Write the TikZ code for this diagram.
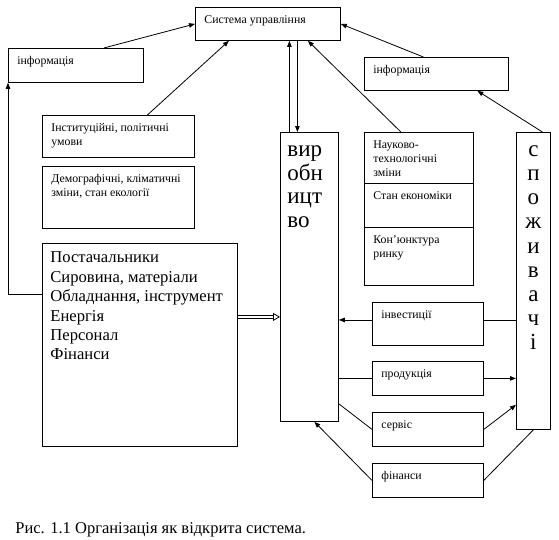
\documentclass[tikz,border=0pt]{standalone}
\usepackage{fontspec}
\setmainfont{Liberation Serif}
\usetikzlibrary{positioning, arrows.meta, calc}

\newcommand{\boxtext}[3]{\parbox[t][#2][t]{#1}{\raggedright\strut #3}}

\tikzset{
  blk/.style={draw, anchor=north west, inner xsep=9pt, inner ysep=6pt,
    font=\fontsize{11.8}{14}\selectfont},
  tall/.style={draw, anchor=north west, inner xsep=7pt, inner ysep=7.5pt,
    font=\fontsize{23}{23.6}\selectfont},
  hollow/.style={double, double distance=2.5pt, -{Triangle[open, length=7pt, width=8pt]}},
}

\begin{document}
\begin{tikzpicture}[x=1pt, y=-1pt, line width=0.8pt, >={Triangle[length=6pt, width=4.5pt]}]
        \useasboundingbox (0,0) rectangle (559,539);

        % Boxes
        \node[blk] (sys) at (195,7) {\boxtext{127pt}{21pt}{Система управління}};
        \node[blk] (infoL) at (8,48) {\boxtext{117pt}{22pt}{інформація}};
        \node[blk] (infoR) at (364,57) {\boxtext{126pt}{21pt}{інформація}};
        \node[blk] (inst) at (42,115) {\boxtext{134pt}{30pt}{Інституційні, політичні\\умови}};
        \node[blk] (demo) at (42,166) {\boxtext{134pt}{50pt}{Демографічні, кліматичні\\зміни, стан екології}};
        \node[blk, inner xsep=8pt, font=\fontsize{16.6}{19.4}\selectfont] (supp) at (42,243)
          {\boxtext{179pt}{191pt}{Постачальники\\Сировина, матеріали\\Обладнання, інструмент\\Енергія\\Персонал\\Фінанси}};

        \node[tall] (vyr) at (280,132) {\boxtext{44pt}{274pt}{вир\\обн\\ицт\\во}};
        \node[tall, inner xsep=3pt, inner ysep=7pt, font=\fontsize{23}{24.2}\selectfont] (spoz) at (516,132)
          {\parbox[t][283pt][t]{28pt}{\centering\strut с\\п\\о\\ж\\и\\в\\а\\ч\\і}};

        % Environment column
        \node[blk] (nauk1) at (364,132) {\boxtext{91pt}{39pt}{Науково-\\технологічні\\зміни}};
        \node[blk] (nauk2) at (364,183) {\boxtext{91pt}{32pt}{Стан економіки}};
        \node[blk] (nauk3) at (364,227) {\boxtext{91pt}{46pt}{Кон’юнктура\\ринку}};

        % Flows
        \node[blk] (inv) at (372,302) {\boxtext{93pt}{31pt}{інвестиції}};
        \node[blk] (prod) at (372,361) {\boxtext{93pt}{22pt}{продукція}};
        \node[blk] (serv) at (372,412) {\boxtext{93pt}{22pt}{сервіс}};
        \node[blk] (fin) at (372,463) {\boxtext{93pt}{22pt}{фінанси}};

        % Caption
        \node[anchor=base west, inner sep=0pt, font=\fontsize{16.5}{19}\selectfont] (cap) at (15,533)
          {Рис. 1.1 Організація як відкрита система.};

        % Links to the management system
        \draw[->] ([xshift=28]infoL.north) -- (sys.west);
        \draw[->] ([yshift=51]supp.west) -| (infoL.south west);
        \draw[->] ([xshift=29]inst.north) -- ([xshift=-39]sys.south);
        \draw[->] ([xshift=-20]vyr.north) -- ([xshift=-20]vyr.north |- sys.south);
        \draw[->] ([xshift=-12]vyr.north |- sys.south) -- ([xshift=-12]vyr.north);
        \draw[->] ([xshift=-18]nauk1.north) -- ([xshift=40]sys.south);
        \draw[->] ([xshift=-13]infoR.north) -- (sys.east);
        \draw[->] ([xshift=9]spoz.north) -- ([xshift=41]infoR.south);

        % Inputs
        \draw[hollow] ([yshift=28]supp.east) -- ([yshift=28]supp.east -| vyr.west);

        % Exchange with consumers
        \draw ([yshift=4]inv.east -| spoz.west) -- ([yshift=4]inv.east);
        \draw[->] ([yshift=4]inv.west) -- ([yshift=4]inv.west -| vyr.east);
        \draw (prod.west -| vyr.east) -- (prod.west);
        \draw[->] (prod.east) -- (prod.east -| spoz.west);
        \draw ([yshift=18]vyr.south east) -- (serv.west);
        \draw[->] (serv.east) -- ([yshift=25]spoz.south west);
        \draw (spoz.south) -- (fin.east);
        \draw[->] (fin.west) -- ([xshift=5]vyr.south);

      \end{tikzpicture}
\end{document}
